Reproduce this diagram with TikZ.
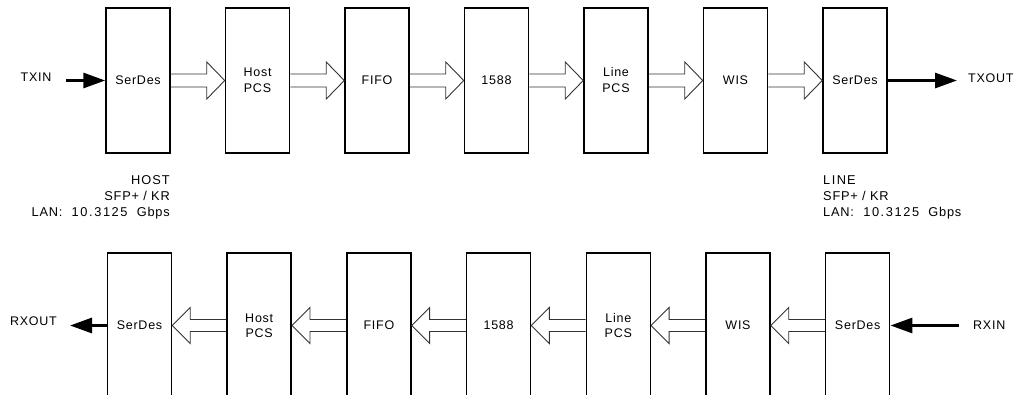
\documentclass[tikz,border=0pt]{standalone}
\usepackage{fontspec}
\setmainfont{Liberation Sans}[LetterSpace=6]
\usetikzlibrary{arrows.meta,calc}
\newcommand{\lanrate}{LAN:\hspace{5pt} 1\kern1.6pt0\kern1.6pt.\kern1.6pt3\kern1.6pt1\kern1.6pt2\kern1.6pt5\hspace{5pt} Gbps}
\begin{document}
\begin{tikzpicture}[x=1pt,y=-1pt,
  font=\fontsize{12.5}{16}\selectfont,
  blk/.style={draw=black,line width=1.5pt,minimum width=64pt,minimum height=145pt,inner sep=0pt,align=center},
  hollow/.style={draw=black!80,line width=0.9pt,line join=miter},
  thickarrow/.style={line width=3pt,-{Triangle[length=22pt,width=15pt]}},
  lbl/.style={inner sep=0pt},
  side/.style={inner sep=0pt,font=\fontsize{12.8}{16.2}\selectfont}]
\useasboundingbox (0,0) rectangle (1017,394);
\clip (0,0) rectangle (1017,394);
\foreach \t [count=\i from 0] in {SerDes,{Host\\PCS},FIFO,1588,{Line\\PCS},WIS,SerDes}{
  \node[blk] (t\i) at (138+119.5*\i,80.5) {\t};
  \node[blk,font=\fontsize{12.5}{15}\selectfont] (b\i) at (139.5+119.7*\i,325.5) {\t};
}
\foreach \i/\j in {0/1,1/2,2/3,3/4,4/5,5/6}{
  \draw[hollow] ($(t\i.east)+(0,-6.5)$) -- ($(t\j.west)+(-18,-6.5)$) -- ($(t\j.west)+(-18,-18.5)$) -- (t\j.west) -- ($(t\j.west)+(-18,18.5)$) -- ($(t\j.west)+(-18,6.5)$) -- ($(t\i.east)+(0,6.5)$);
  \draw[hollow] ($(b\j.west)+(0,-6)$) -- ($(b\i.east)+(18,-6)$) -- ($(b\i.east)+(18,-18)$) -- (b\i.east) -- ($(b\i.east)+(18,18)$) -- ($(b\i.east)+(18,6)$) -- ($(b\j.west)+(0,6)$);
}
\coordinate (txinS) at (66,80.5);
\coordinate (txoutE) at (957,80.5);
\coordinate (rxoutE) at (70,325.5);
\coordinate (rxinS) at (959,325.5);
\draw[thickarrow] (txinS) -- (t0.west);
\draw[thickarrow] (t6.east) -- (txoutE);
\draw[thickarrow] (b0.west) -- (rxoutE);
\draw[thickarrow] (rxinS) -- (b6.east);
\node[lbl] (txin) at (36,77.5) {TXIN};
\node[lbl,anchor=west] (txout) at (968,78) {TXOUT};
\node[lbl] (rxout) at (33.5,321.5) {RXOUT};
\node[lbl,anchor=west] (rxin) at (973,325) {RXIN};
\node[side,anchor=north east,align=right] (host) at (170,175) {H\kern1ptO\kern1ptS\kern1ptT\\SFP+ / KR\\\lanrate};
\node[side,anchor=north west,align=left] (line) at (823,175) {L\kern1.5ptI\kern1.5ptN\kern1ptE\\SFP+ / KR\\\lanrate};
\end{tikzpicture}
\end{document}
